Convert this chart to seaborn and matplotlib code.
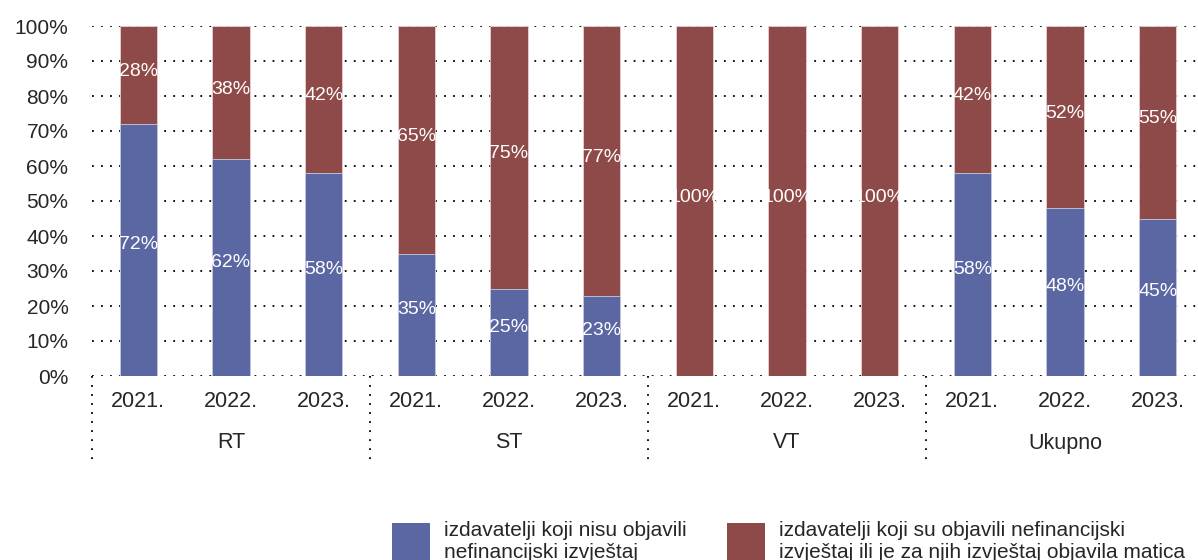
import seaborn as sns
import matplotlib.pyplot as plt
import matplotlib.patches as mpatches
import matplotlib.transforms as mtransforms
import pandas as pd

groups = ["RT", "ST", "VT", "Ukupno"]
years = ["2021.", "2022.", "2023."]
not_published = [72, 62, 58, 35, 25, 23, 0, 0, 0, 58, 48, 45]
published = [28, 38, 42, 65, 75, 77, 100, 100, 100, 42, 52, 55]
legend_labels = ["izdavatelji koji nisu objavili\nnefinancijski izvještaj",
                 "izdavatelji koji su objavili nefinancijski\nizvještaj ili je za njih izvještaj objavila matica"]

BLUE = "#5b67a3"
RED = "#8e4a48"

sns.set_style("white")
plt.rcParams["font.family"] = ["Liberation Sans", "DejaVu Sans"]

keys = [f"{g} {y}" for g in groups for y in years]
df = pd.DataFrame({"key": keys, "blue": not_published, "red": published})
df["total"] = df["blue"] + df["red"]

fig = plt.figure(figsize=(11.98, 5.6), dpi=100)
ax = fig.add_axes([92 / 1198, 1 - 376 / 560, 1112 / 1198, 350 / 560])

# gridlines first so bars sit on top
for v in range(0, 101, 10):
    ax.axhline(v, color="black", linestyle=(0, (1, 4)), linewidth=1.3, zorder=0)

sns.barplot(data=df, x="key", y="total", order=keys, color=RED, width=0.4,
            saturation=1, edgecolor="#e8d0d0", linewidth=0.6, ax=ax, zorder=2)
sns.barplot(data=df, x="key", y="blue", order=keys, color=BLUE, width=0.4,
            saturation=1, edgecolor="#c8cce0", linewidth=0.6, ax=ax, zorder=3)

# value labels
for i, (b, r) in enumerate(zip(not_published, published)):
    if b > 0:
        ax.text(i, b / 2 + 1.5, f"{b}%", ha="center", va="center", color="white",
                fontsize=14, zorder=4)
    if r > 0:
        ax.text(i, b + r / 2 + 1, f"{r}%", ha="center", va="center", color="white",
                fontsize=14, zorder=4)

ax.set_xlim(-0.5, 11.5)
ax.set_ylim(0, 100)
ax.set_yticks(range(0, 101, 10))
ax.set_yticklabels([f"{v}%" for v in range(0, 101, 10)], fontsize=15)
ax.set_xticks(range(12))
ax.set_xticklabels(years * 4, fontsize=15.5)
ax.tick_params(axis="both", length=0)
ax.tick_params(axis="x", pad=11)
ax.tick_params(axis="y", pad=17)
ax.set_xlabel("")
ax.set_ylabel("")
sns.despine(ax=ax, left=True, bottom=True)

# group labels and separators under the axis
trans = mtransforms.blended_transform_factory(ax.transData, ax.transAxes)
for gi, g in enumerate(groups):
    ax.text(gi * 3 + 1, -67 / 350, g, transform=trans, ha="center", va="center",
            fontsize=15.5)
    ax.plot([gi * 3 - 0.5, gi * 3 - 0.5], [0, -89 / 350], transform=trans,
            color="black", linestyle=(0, (1, 4)), linewidth=1.3, clip_on=False)

# legend
for lbl, col, x0 in [(legend_labels[0], BLUE, 384), (legend_labels[1], RED, 719)]:
    h = mpatches.Patch(facecolor=col, edgecolor="none")
    fig.legend([h], [lbl], loc="lower left", bbox_to_anchor=(x0 / 1198, -10 / 560),
               frameon=False, fontsize=15, handlelength=1.8, handleheight=2.4,
               handletextpad=0.7, borderaxespad=0, labelspacing=0)

plt.savefig("out.png", dpi=100)
